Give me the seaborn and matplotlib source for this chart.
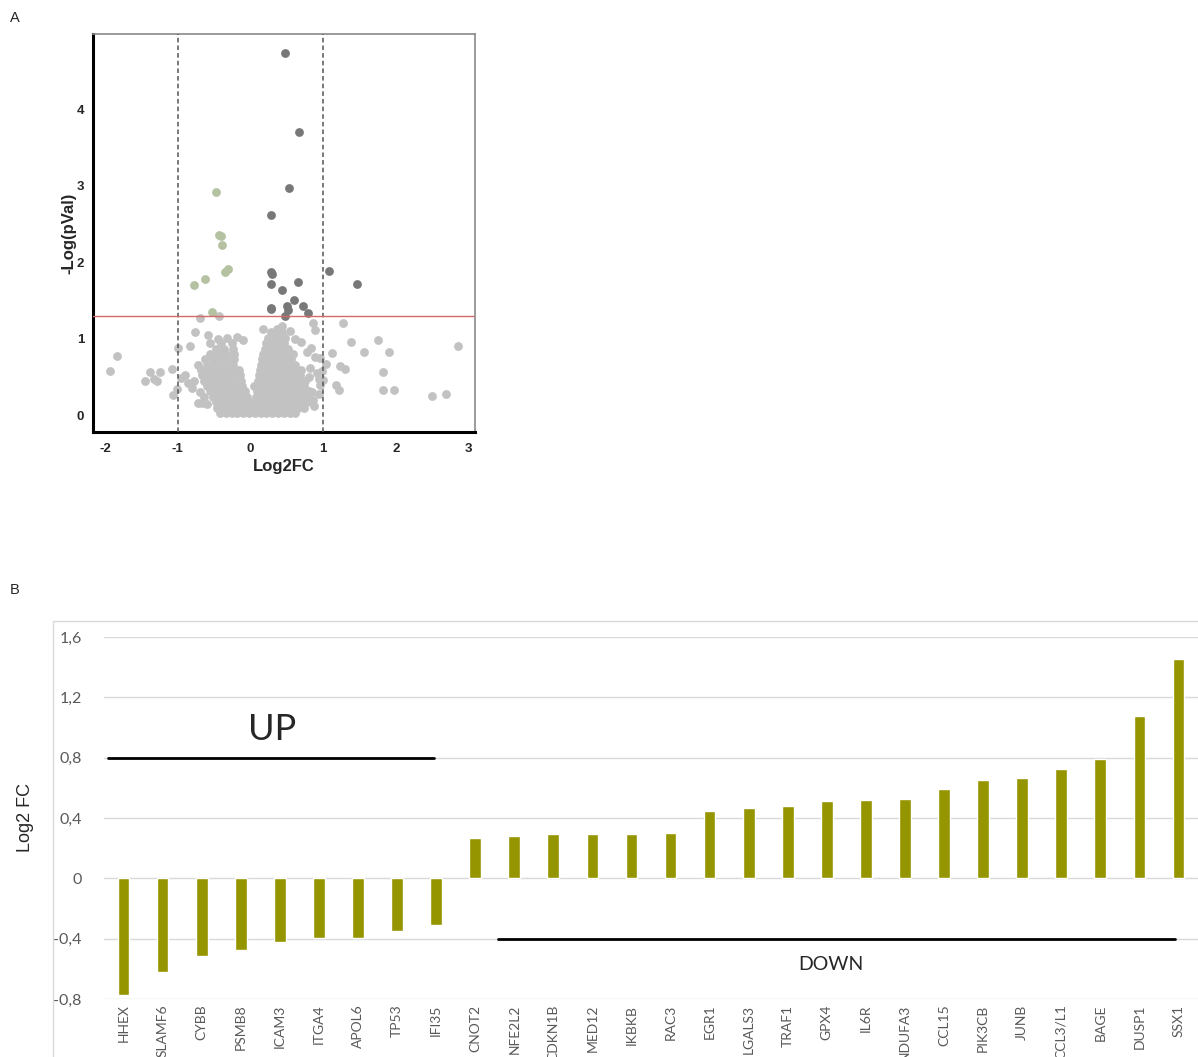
import matplotlib
matplotlib.use("Agg")
import matplotlib.pyplot as plt
import seaborn as sns
import pandas as pd
from matplotlib.patches import Rectangle

# ---------------- Panel B data ----------------
genes = ["HHEX", "SLAMF6", "CYBB", "PSMB8", "ICAM3", "ITGA4", "APOL6", "TP53", "IFI35",
         "CNOT2", "NFE2L2", "CDKN1B", "MED12", "IKBKB", "RAC3", "EGR1", "LGALS3", "TRAF1",
         "GPX4", "IL6R", "NDUFA3", "CCL15", "PIK3CB", "JUNB", "CCL3/L1", "BAGE", "DUSP1", "SSX1"]
log2fc = [-0.773, -0.619, -0.517, -0.475, -0.424, -0.396, -0.396, -0.349, -0.309,
          0.265, 0.283, 0.292, 0.292, 0.292, 0.300, 0.444, 0.464, 0.480,
          0.510, 0.519, 0.526, 0.594, 0.650, 0.667, 0.725, 0.789, 1.076, 1.452]
b_yticks = [-0.8, -0.4, 0, 0.4, 0.8, 1.2, 1.6]
b_yticklabels = ["-0,8", "-0,4", "0", "0,4", "0,8", "1,2", "1,6"]

# ---------------- Panel A data ----------------
sig_pos_x = [0.47, 0.67, 0.53, 0.29, 0.29, 0.30, 1.08, 1.46, 0.28, 0.65, 0.44, 0.60, 0.50,
             0.72, 0.28, 0.29, 0.52, 0.79, 0.47]
sig_pos_y = [4.73, 3.70, 2.97, 2.61, 1.87, 1.85, 1.88, 1.72, 1.72, 1.74, 1.64, 1.50, 1.43,
             1.43, 1.39, 1.40, 1.38, 1.34, 1.30]
sig_neg_x = [-0.48, -0.43, -0.41, -0.39, -0.31, -0.35, -0.62, -0.78, -0.53]
sig_neg_y = [2.92, 2.35, 2.34, 2.22, 1.91, 1.87, 1.78, 1.70, 1.35]

scatter_x = [-0.69, -0.43, -0.76, -0.58, -0.45, -0.32, -0.19, -0.83, -1.00, -1.83, -1.93,
             -1.45, -1.38, -1.33, -1.28, -1.25, -1.08, -1.07, -1.01, -0.90, -0.86, -0.95,
             -0.72, -0.66, -0.60, -0.80, -0.10, 0.05, 0.18, 0.36, 0.44, 0.40, 0.55,
             0.62, 0.70, 0.78, 0.84, -0.70, -0.64, -0.78,
             0.86, 0.89, 1.27, 1.39, 1.12, 1.56, 1.76, 1.91, 2.85, 1.83, 1.83, 1.98, 2.50,
             2.69, 1.23, 1.30, 1.18, 1.22, 1.04, 0.96, 0.89, 0.95, 0.96, 1.00, 0.94, 0.85,
             0.92, 0.82, 0.86, 0.99, 0.88, 0.80]
scatter_y = [1.27, 1.29, 1.08, 1.05, 1.00, 1.01, 1.02, 0.90, 0.88, 0.77, 0.58,
             0.44, 0.56, 0.47, 0.45, 0.56, 0.60, 0.26, 0.34, 0.52, 0.42, 0.48,
             0.16, 0.16, 0.14, 0.36, 0.98, 0.38, 1.13, 1.13, 1.17, 1.05, 1.10,
             1.00, 0.95, 0.82, 0.88, 0.30, 0.24, 0.45,
             1.20, 1.11, 1.20, 0.96, 0.81, 0.83, 0.98, 0.83, 0.90, 0.57, 0.33, 0.33, 0.25,
             0.27, 0.64, 0.60, 0.39, 0.33, 0.67, 0.75, 0.76, 0.47, 0.40, 0.46, 0.27, 0.30,
             0.55, 0.62, 0.20, 0.58, 0.12, 0.50]

cloud_rows = {
    0.03: [-0.42, -0.34, -0.26, -0.18, -0.10, -0.02, 0.06, 0.14, 0.22, 0.30, 0.38, 0.46, 0.54, 0.62],
    0.10: [-0.46, -0.38, -0.30, -0.22, -0.14, -0.06, 0.02, 0.10, 0.18, 0.26, 0.34, 0.42, 0.50, 0.58,
           0.66, 0.74],
    0.17: [-0.48, -0.40, -0.32, -0.24, -0.16, -0.08, 0.00, 0.08, 0.16, 0.24, 0.32, 0.40, 0.48, 0.56,
           0.64, 0.72, 0.78],
    0.24: [-0.52, -0.44, -0.36, -0.28, -0.20, -0.12, -0.05, 0.07, 0.14, 0.22, 0.30, 0.38, 0.46, 0.54,
           0.62, 0.70, 0.78],
    0.31: [-0.56, -0.48, -0.40, -0.32, -0.24, -0.16, -0.08, 0.09, 0.16, 0.24, 0.32, 0.40, 0.48, 0.56,
           0.64, 0.72, 0.80],
    0.38: [-0.60, -0.52, -0.44, -0.36, -0.28, -0.20, -0.11, 0.10, 0.18, 0.26, 0.34, 0.42, 0.50, 0.58,
           0.66, 0.74],
    0.45: [-0.64, -0.55, -0.47, -0.39, -0.31, -0.22, -0.13, 0.11, 0.19, 0.27, 0.35, 0.43, 0.51, 0.59,
           0.67, 0.75],
    0.52: [-0.66, -0.57, -0.49, -0.41, -0.33, -0.24, -0.15, 0.12, 0.20, 0.28, 0.36, 0.44, 0.52, 0.60,
           0.68],
    0.59: [-0.68, -0.58, -0.50, -0.42, -0.33, -0.24, -0.16, 0.13, 0.21, 0.29, 0.37, 0.45, 0.53, 0.61,
           0.70],
    0.66: [-0.72, -0.60, -0.51, -0.42, -0.33, -0.24, 0.14, 0.22, 0.30, 0.38, 0.46, 0.54, 0.62],
    0.73: [-0.62, -0.52, -0.42, -0.32, -0.22, 0.16, 0.24, 0.32, 0.40, 0.48, 0.56],
    0.80: [-0.56, -0.44, -0.33, -0.22, 0.18, 0.26, 0.34, 0.42, 0.50, 0.58],
    0.87: [-0.48, -0.36, -0.24, 0.20, 0.28, 0.36, 0.44, 0.52],
    0.94: [-0.55, -0.40, -0.25, 0.22, 0.30, 0.38, 0.46],
    1.01: [0.24, 0.32, 0.40, 0.48],
    1.08: [0.28, 0.36, 0.43],
}
a_xticks = [-2, -1, 0, 1, 2, 3]
a_yticks = [0, 1, 2, 3, 4]
fc_cut = [-1, 1]
p_cut = 1.3

# annotation positions (panel B, data coordinates)
up_line = (-0.40, 7.95, 0.8)
down_line = (9.59, 26.91, -0.4)
up_text = (3.8, 0.99)
down_text = (18.11, -0.57)

# ---------------- figure ----------------
sns.set_theme(style="white")
plt.rcParams["font.family"] = ["Liberation Sans", "DejaVu Sans"]

fig = plt.figure(figsize=(11.98, 10.57), dpi=100)
W, H = 1198, 1057

# ---- Panel A ----
axA = fig.add_axes([92.7 / W, 1 - 432 / H, (475 - 92.7) / W, (432 - 34) / H])
cx, cy = [], []
for yv, xs in cloud_rows.items():
    for xv in xs:
        cx.append(xv)
        cy.append(yv)
bg = pd.DataFrame({"x": cx + scatter_x, "y": cy + scatter_y})
sns.scatterplot(data=bg, x="x", y="y", color="#c2c2c2", s=40, linewidth=0, ax=axA, zorder=2)
sns.scatterplot(x=sig_neg_x, y=sig_neg_y, color="#b4c2a2", s=40, linewidth=0, ax=axA, zorder=3)
sns.scatterplot(x=sig_pos_x, y=sig_pos_y, color="#787878", s=40, linewidth=0, ax=axA, zorder=3)
for xc in fc_cut:
    axA.axvline(xc, color="#555555", lw=1.1, ls=(0, (3, 2)), zorder=4)
axA.axhline(p_cut, color="#d66a6a", lw=1.0, zorder=4)
axA.set_xlim(-2.17, 3.09)
axA.set_ylim(-0.22, 4.98)
axA.set_xticks(a_xticks)
axA.set_yticks(a_yticks)
axA.set_xticklabels([str(t) for t in a_xticks], fontweight="bold", fontsize=9.5)
axA.set_yticklabels([str(t) for t in a_yticks], fontweight="bold", fontsize=9.5)
axA.tick_params(axis="x", direction="out", length=3, width=1, color="#333333", pad=5)
axA.tick_params(axis="y", direction="out", length=3, width=1, color="#333333", pad=3)
axA.set_xlabel("Log2FC", fontweight="bold", fontsize=12, labelpad=3)
axA.set_ylabel("-Log(pVal)", fontweight="bold", fontsize=12, labelpad=0)
for side in ["left", "bottom"]:
    axA.spines[side].set_color("black")
    axA.spines[side].set_linewidth(2.2)
for side in ["top", "right"]:
    axA.spines[side].set_color("#8a8a8a")
    axA.spines[side].set_linewidth(1.2)
axA.grid(False)

# ---- Panel B ----
axB = fig.add_axes([104 / W, 1 - 999 / H, 1094 / W, (999 - 637) / H])
dfb = pd.DataFrame({"gene": genes, "fc": log2fc})
sns.barplot(data=dfb, x="gene", y="fc", color="#959500", saturation=1, width=0.3, ax=axB, zorder=3)
axB.set_ylim(-0.8, 1.6)
axB.set_xlim(-0.5, len(genes) - 0.5)
axB.set_yticks(b_yticks)
axB.set_yticklabels(b_yticklabels, fontsize=11.5, color="#595959", family=["Lato", "DejaVu Sans"])
axB.tick_params(axis="y", length=0, pad=16)
axB.tick_params(axis="x", length=0, pad=4)
for lab in axB.get_xticklabels():
    lab.set_rotation(90)
    lab.set_fontsize(10)
    lab.set_color("#595959")
    lab.set_family(["Lato", "DejaVu Sans"])
axB.set_xlabel("")
axB.set_ylabel("Log2 FC", fontsize=13)
axB.yaxis.set_label_coords((34 - 104) / 1094, 0.5)
axB.yaxis.grid(True, color="#d9d9d9", lw=1.0, zorder=0)
axB.xaxis.grid(False)
for s in axB.spines.values():
    s.set_visible(False)
axB.set_facecolor("none")

axB.plot([up_line[0], up_line[1]], [up_line[2], up_line[2]], color="black", lw=2, zorder=4, clip_on=False)
axB.plot([down_line[0], down_line[1]], [down_line[2], down_line[2]], color="black", lw=2, zorder=4, clip_on=False)
axB.text(up_text[0], up_text[1], "UP", fontsize=26, ha="center", va="center",
         family=["Lato", "DejaVu Sans"])
axB.text(down_text[0], down_text[1], "DOWN", fontsize=14, ha="center", va="center",
         family=["Lato", "DejaVu Sans"])

# chart border of panel B
fig.add_artist(Rectangle((53 / W, -0.05), 1.2, (1057 - 621) / H + 0.05, transform=fig.transFigure,
                         fill=False, edgecolor="#d9d9d9", lw=1.0))

# panel letters
fig.text(15 / W, 1 - 18 / H, "A", fontsize=10.5, ha="center", va="center")
fig.text(15 / W, 1 - 590 / H, "B", fontsize=10.5, ha="center", va="center")

fig.savefig("out.png", dpi=100)
